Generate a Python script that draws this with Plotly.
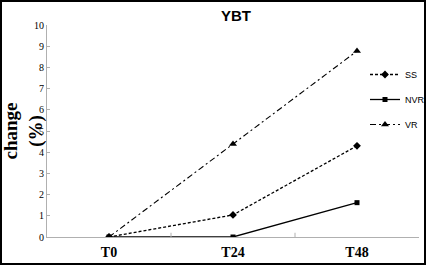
import plotly.graph_objects as go

categories = ["T0", "T24", "T48"]
ss = [0, 1.04, 4.3]
nvr = [0, 0, 1.62]
vr = [0, 4.39, 8.77]
y_ticks = [0, 1, 2, 3, 4, 5, 6, 7, 8, 9, 10]

fig = go.Figure()
fig.add_trace(go.Scatter(x=categories, y=ss, name="SS", mode="lines+markers",
                         line=dict(color="black", width=1.3, dash="3px,2px"),
                         marker=dict(symbol="diamond", size=6, color="black"),
                         legendgroup="a"))
fig.add_trace(go.Scatter(x=categories, y=nvr, name="NVR", mode="lines+markers",
                         line=dict(color="black", width=1.3),
                         marker=dict(symbol="square", size=5, color="black"),
                         legendgroup="b"))
fig.add_trace(go.Scatter(x=categories, y=vr, name="VR", mode="lines+markers",
                         line=dict(color="black", width=1.1, dash="6px,3px,2px,3px"),
                         marker=dict(symbol="triangle-up", size=7, color="black"),
                         legendgroup="c"))

L, R, T, B = 47, 419, 25, 237
W, H = 426, 265
pw, ph = R - L, B - T

fig.update_layout(
    width=W, height=H,
    margin=dict(l=L, r=W - R, t=T, b=H - B, autoexpand=False),
    paper_bgcolor="white", plot_bgcolor="white",
    title=dict(text="<b>YBT</b>", x=(236 - L) / pw, xref="paper", xanchor="center",
               y=1 - 16 / H, yanchor="middle",
               font=dict(family="Liberation Sans, Arial", size=15, color="black")),
    showlegend=True,
    legend=dict(x=(365 - L) / pw, y=(B - 60) / ph, xanchor="left", yanchor="top",
                font=dict(family="Liberation Sans Narrow, Liberation Sans", size=9, color="black"),
                itemwidth=30, tracegroupgap=6, bgcolor="rgba(0,0,0,0)"),
    xaxis=dict(type="category", range=[-0.5, 2.5], showline=True, linecolor="#b0b0b0",
               linewidth=1, showgrid=False, ticks="", zeroline=False,
               tickfont=dict(family="Liberation Serif, Times New Roman", size=14, color="black",
                             weight="bold"),
               ticklabelstandoff=2),
    yaxis=dict(range=[0, 10], tickvals=y_ticks, showline=True, linecolor="#b0b0b0",
               linewidth=1, showgrid=False, ticks="inside", ticklen=3, tickcolor="#b0b0b0",
               zeroline=False,
               tickfont=dict(family="Liberation Serif, Times New Roman", size=10, color="black"),
               title=dict(text="<b>change<br>(%)</b>", standoff=8,
                          font=dict(family="Liberation Serif, Times New Roman", size=19, color="black"))),
)

# inner category boundary ticks on x axis
for xb in [0.5, 1.5]:
    fig.add_shape(type="line", xref="x", yref="paper", x0=xb, x1=xb, y0=0, y1=0.02,
                  line=dict(color="#b0b0b0", width=1))

# outer black border
fig.add_shape(type="rect", xref="paper", yref="paper",
              x0=(1 - L) / pw, x1=(W - 1 - L) / pw,
              y0=(B - (H - 1)) / ph, y1=(B - 1) / ph,
              line=dict(color="black", width=2))

fig.write_html("out.html")
